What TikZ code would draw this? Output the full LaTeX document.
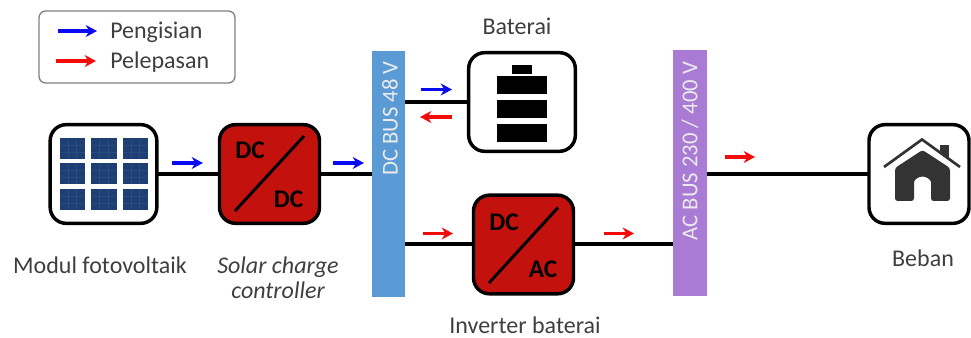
\documentclass[tikz,border=0pt]{standalone}
\usepackage{fontspec}
\setmainfont{Carlito}
\usetikzlibrary{arrows.meta}
\definecolor{cconv}{HTML}{C3110E}
\definecolor{cdcbus}{HTML}{5B9BD5}
\definecolor{cacbus}{HTML}{A97BD5}
\definecolor{cpanel}{HTML}{1E3F74}
\definecolor{cgrid}{HTML}{284C82}
\definecolor{chome}{HTML}{333333}
\definecolor{ctext}{HTML}{3F3F3F}
\definecolor{cframe}{HTML}{7F7F7F}
\definecolor{ccharge}{HTML}{0A0AF5}
\definecolor{cdischarge}{HTML}{F50A0A}

\begin{document}
\begin{tikzpicture}[x=0.75pt,y=-0.75pt,>={Stealth[length=8.5pt,width=9pt]},
  unit/.style={draw=black,line width=2.6pt,rounded corners=12pt,minimum width=75pt,minimum height=74pt,outer sep=0pt,inner sep=0pt,fill=white},
  wideunit/.style={unit,minimum width=80pt},
  conv/.style={unit,fill=cconv},
  bus/.style={minimum width=25pt,minimum height=184pt,outer sep=0pt,inner sep=0pt},
  bustext/.style={rotate=90,text=white!92!black,font=\fontsize{17}{19}\selectfont},
  link/.style={line width=3pt},
  flow/.style={->,line width=2.5pt},
  lbl/.style={text=ctext,font=\fontsize{18}{20}\selectfont,align=center,inner sep=0pt},
  dctext/.style={font=\fontsize{19}{21}\selectfont\bfseries,text=black}]
  \useasboundingbox (0,0) rectangle (971,338);

  \node[draw=cframe,line width=1pt,rounded corners=5pt,minimum width=147pt,minimum height=54pt,inner sep=0pt] (legend) at (137,47) {};
  \coordinate (chargea) at (58,31);
  \coordinate (chargeb) at (97,31);
  \coordinate (dischargea) at (56,61);
  \coordinate (dischargeb) at (96,61);
  \draw[flow,ccharge] (chargea) -- (chargeb);
  \draw[flow,cdischarge] (dischargea) -- (dischargeb);
  \node[lbl,anchor=west] (lblcharge) at (110,32) {Pengisian};
  \node[lbl,anchor=west] (lbldischarge) at (110,62) {Pelepasan};

  \node[wideunit] (pv) at (103.5,174) {};
  \node[conv] (dcdc) at (269.5,174) {};
  \node[wideunit] (batt) at (522,102) {};
  \node[conv] (inv) at (523.5,244.5) {};
  \node[unit] (load) at (919,174) {};
  \node[bus,fill=cdcbus] (dcbus) at (388.5,174) {};
  \node[bus,fill=cacbus] (acbus) at (690,173) {};
  \node[bustext] (dclabel) at (390,118.5) {DC BUS 48 V};
  \node[bustext] (aclabel) at (690,151) {AC BUS 230 / 400 V};

  \draw[link] (pv) -- (dcdc);
  \draw[link] (dcdc.east) -- (dcdc.east -| dcbus.west);
  \draw[link] (batt.west) -- (batt.west -| dcbus.east);
  \draw[link] (inv.west) -- (inv.west -| dcbus.east);
  \draw[link] (inv.east) -- (inv.east -| acbus.west);
  \draw[link] (load.west) -- (load.west -| acbus.east);

  \foreach \n/\xa/\xb/\y/\c in {a/172/203/163/ccharge,b/333/364/163/ccharge,c/421/452/89.5/ccharge,d/452/420/117/cdischarge,e/423/453/233.5/cdischarge,f/604/634/233.5/cdischarge,g/725/755/157/cdischarge} {
    \coordinate (flow\n a) at (\xa,\y);
    \coordinate (flow\n b) at (\xb,\y);
    \draw[flow,\c] (flow\n a) -- (flow\n b);
  }

  \foreach \x in {59.5,91,122.5} {
    \foreach \y in {138,163,189} {
      \fill[cpanel] (\x,\y) rectangle ++(25.5,21);
      \draw[cgrid,line width=0.3pt] (\x+8.5,\y) -- ++(0,21) (\x+17,\y) -- ++(0,21) (\x,\y+7) -- ++(25.5,0) (\x,\y+14) -- ++(25.5,0);
    }
  }

  \draw[line width=2.2pt] (235,211) -- (304,136);
  \node[dctext] (dcin) at (250,150) {DC};
  \node[dctext] (dcout) at (288.5,199) {DC};
  \draw[line width=2.2pt] (489,283) -- (558,207.5);
  \node[dctext] (invin) at (504,222) {DC};
  \node[dctext] (invout) at (543,269) {AC};

  \fill (512,65) rectangle (532,74);
  \foreach \y in {76.5,100,124} {
    \fill (497,\y) rectangle ++(50,18);
  }

  \fill[chome] (940,145) rectangle (949,160);
  \draw[chome,line width=2pt,fill=white] (884,167) -- (922,139.5) -- (960,167);
  \fill[chome,rounded corners=2pt] (895,201) -- (895,168) -- (922.5,150) -- (950,168) -- (950,201) -- (931,201) -- (931,185) arc (0:-180:8.5) -- (914,201) -- cycle;

  \node[lbl] (lblpv) at (100,265) {Modul fotovoltaik};
  \node[lbl,font=\fontsize{18}{18.75}\selectfont\itshape] (lblscc) at (278,277.5) {Solar charge\\controller};
  \node[lbl] (lblbatt) at (517,26) {Baterai};
  \node[lbl] (lblinv) at (525,325) {Inverter baterai};
  \node[lbl] (lblload) at (923,258) {Beban};
\end{tikzpicture}
\end{document}
